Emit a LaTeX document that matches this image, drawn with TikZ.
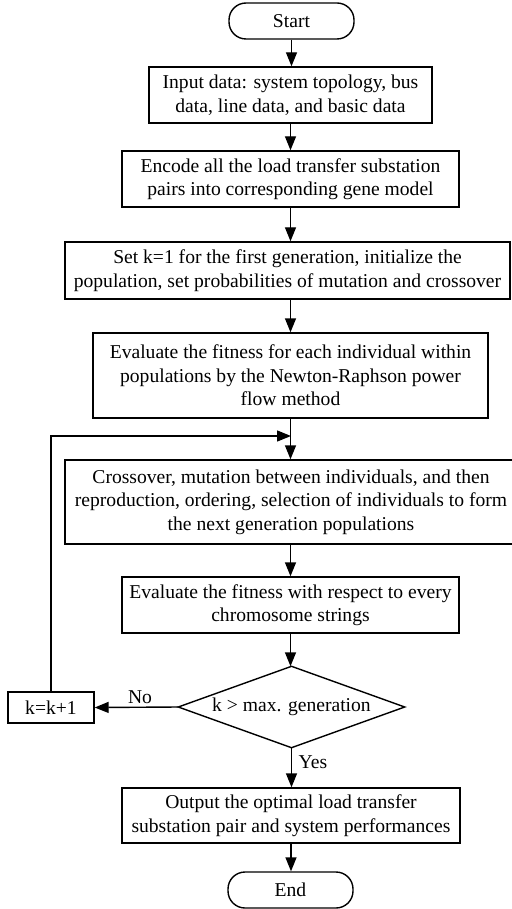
\documentclass[tikz,border=0pt]{standalone}
\usepackage{fontspec}
\setmainfont{Liberation Serif}
\usetikzlibrary{arrows.meta}
\begin{document}
\begin{tikzpicture}[x=1pt,y=-1pt,
  line width=1.4pt,
  font=\fontsize{19.6}{23.5}\selectfont,
  box/.style={draw,rectangle,inner sep=0pt,align=center},
  term/.style={draw,rectangle,rounded corners=17pt,inner sep=0pt,minimum width=125pt,minimum height=36pt},
  arr/.style={-{Triangle[length=14pt,width=11pt]}},
  lbl/.style={inner sep=0pt}]
\useasboundingbox (0,0) rectangle (511,909);
\node[term] (start) at (291.5,21) {Start};
\node[box,minimum width=283pt,minimum height=56pt] (b1) at (290.5,95) {Input data: system topology, bus\\data, line data, and basic data};
\node[box,minimum width=337pt,minimum height=56pt] (b2) at (290.5,179) {Encode all the load transfer substation\\pairs into corresponding gene model};
\node[box,minimum width=445pt,minimum height=57pt] (b3) at (287.5,270.5) {Set k=1 for the first generation, initialize the\\population, set probabilities of mutation and crossover};
\node[box,minimum width=395pt,minimum height=85pt] (b4) at (290.5,375.5) {Evaluate the fitness for each individual within\\populations by the Newton-Raphson power\\flow method};
\node[box,minimum width=452pt,minimum height=84pt] (b5) at (291,502) {Crossover, mutation between individuals, and then\\reproduction, ordering, selection of individuals to form\\the next generation populations};
\node[box,minimum width=337pt,minimum height=56pt] (b6) at (290.5,605) {Evaluate the fitness with respect to every\\chromosome strings};
\node[inner sep=0pt,minimum width=225pt,minimum height=80pt] (d) at (291.5,707) {k {\char"003E} max. generation};
\draw (d.north) -- (d.east) -- (d.south) -- (d.west) -- cycle;
\node[box,minimum width=86pt,minimum height=31pt] (k) at (51,707.5) {k=k+1};
\node[box,minimum width=338pt,minimum height=55pt] (b7) at (291,815.5) {Output the optimal load transfer\\substation pair and system performances};
\node[term] (end) at (290.5,890) {End};
\coordinate (j) at (291,436);
\draw[arr] (start.south) -- (start.south |- b1.north);
\draw[arr] (b1.south) -- (b1.south |- b2.north);
\draw[arr] (b2.south) -- (b2.south |- b3.north);
\draw[arr] (b2.south |- b3.south) -- (b2.south |- b4.north);
\draw[arr] (b4.south) -- (b4.south |- b5.north);
\draw[arr] (b4.south |- b5.south) -- (b4.south |- b6.north);
\draw[arr] (b6.south) -- (b6.south |- d.north);
\draw[arr] (d.south) -- (d.south |- b7.north);
\draw[arr] (b7.south) -- (b7.south |- end.north);
\draw[arr] (d.west) -- (k.east);
\draw[arr] (k.north) |- (j);
\node[lbl] (no) at (140,697) {No};
\node[lbl] (yes) at (313,762) {Yes};
\end{tikzpicture}
\end{document}
